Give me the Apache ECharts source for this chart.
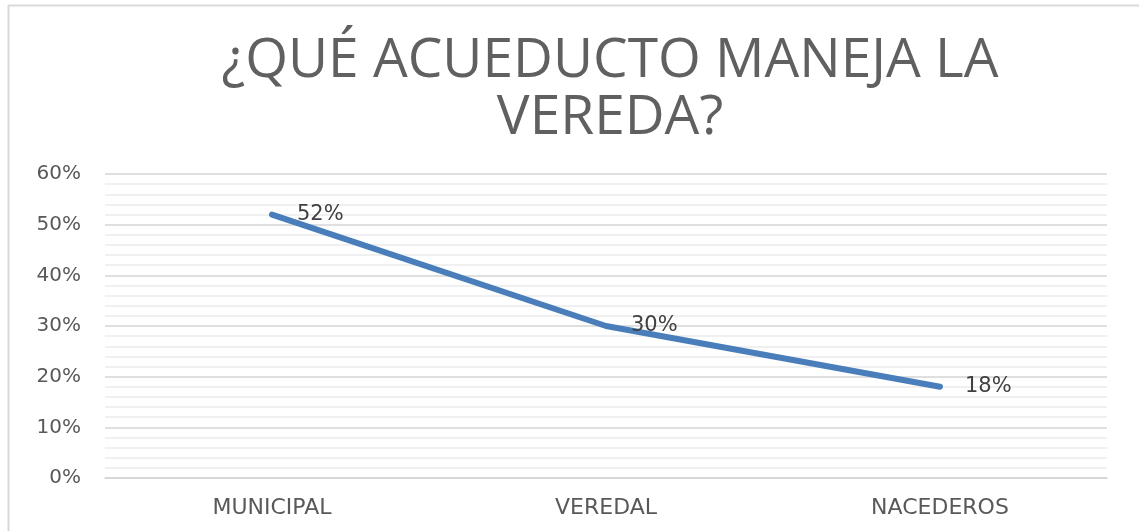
<!DOCTYPE html>
<html>
<head>
<meta charset="utf-8">
<title>¿Qué acueducto maneja la vereda?</title>
<script src="https://cdn.jsdelivr.net/npm/echarts@6/dist/echarts.min.js"></script>
<style>
  html, body { margin: 0; padding: 0; background: #fff; }
  #chart { width: 1139px; height: 531px; }
</style>
</head>
<body>
<div id="chart"></div>
<script>
// Data
const categories = ['MUNICIPAL', 'VEREDAL', 'NACEDEROS'];
const shares = [52, 30, 18];
const yTicks = [0, 10, 20, 30, 40, 50, 60];

const chart = echarts.init(document.getElementById('chart'));

chart.setOption({
  animation: false,
  backgroundColor: '#fff',
  title: {
    text: '¿QUÉ ACUEDUCTO MANEJA LA\nVEREDA?',
    left: 605,
    textAlign: 'center',
    top: 28,
    textStyle: {
      fontFamily: 'Open Sans',
      fontWeight: 400,
      fontSize: 55,
      lineHeight: 57,
      color: '#606060'
    }
  },
  // chart frame: only top and left edges are visible in the picture
  graphic: [
    { type: 'line', shape: { x1: 8, y1: 5.5, x2: 1139, y2: 5.5 }, style: { stroke: '#d9d9d9', lineWidth: 2 } },
    { type: 'line', shape: { x1: 8.5, y1: 5, x2: 8.5, y2: 531 }, style: { stroke: '#d9d9d9', lineWidth: 2 } }
  ],
  grid: { left: 105, right: 32, top: 174, bottom: 53 },
  xAxis: {
    type: 'category',
    data: categories,
    boundaryGap: true,
    axisLine: { lineStyle: { color: '#d4d4d4', width: 1.5 } },
    axisTick: { show: false },
    axisLabel: {
      margin: 19,
      fontFamily: 'DejaVu Sans',
      fontSize: 22,
      color: '#595959'
    }
  },
  yAxis: {
    type: 'value',
    min: yTicks[0],
    max: yTicks[yTicks.length - 1],
    interval: 10,
    axisLine: { show: false },
    axisTick: { show: false },
    axisLabel: {
      margin: 24,
      fontFamily: 'DejaVu Sans',
      fontSize: 20,
      color: '#595959',
      formatter: v => v + '%'
    },
    splitLine: { lineStyle: { color: '#d4d4d4', width: 1.5 } },
    minorTick: { show: false, splitNumber: 5 },
    minorSplitLine: { show: true, lineStyle: { color: '#ebebeb', width: 1.5 } }
  },
  series: [{
    type: 'line',
    data: shares,
    symbol: 'circle',
    symbolSize: 2,
    showSymbol: true,
    itemStyle: { color: '#4a7ebb' },
    lineStyle: { color: '#4a7ebb', width: 6, cap: 'round', join: 'round' },
    label: {
      show: true,
      position: 'right',
      distance: 24,
      fontFamily: 'DejaVu Sans',
      fontSize: 21,
      color: '#404040',
      formatter: p => p.value + '%'
    }
  }]
});
</script>
</body>
</html>
